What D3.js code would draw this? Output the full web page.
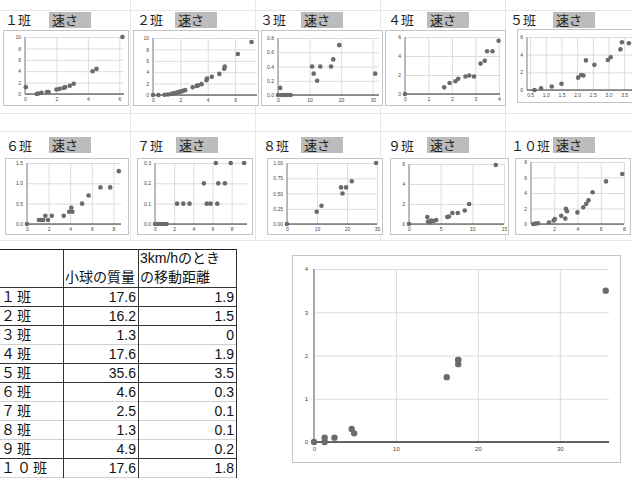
<!DOCTYPE html>
<html>
<head>
<meta charset="utf-8">
<script src="https://d3js.org/d3.v7.min.js"></script>
<style>
body { margin: 0; background: #fff; }
svg { display: block; font-family: "Liberation Sans", Arial, sans-serif; }
</style>
</head>
<body>
<svg id="sheet" width="632" height="478"></svg>
<script>
// ---- data ----
var classNames = ["１班", "２班", "３班", "４班", "５班", "６班", "７班", "８班", "９班", "１０班"];
var massValues = [17.6, 16.2, 1.3, 17.6, 35.6, 4.6, 2.5, 1.3, 4.9, 17.6];
var distValues = [1.9, 1.5, 0, 1.9, 3.5, 0.3, 0.1, 0.1, 0.2, 1.8];
var speedLabel = "速さ";
var massHeader = "小球の質量";
var distHeader = ["3km/hのとき", "の移動距離"];

// speed charts, one list of [x, y] per class
var speed1 = [[0.05,1.2],[0.75,0],[0.85,0.1],[1.05,0.2],[1.4,0.35],[1.5,0.35],[2.0,0.8],[2.2,0.9],
  [2.45,1.05],[2.55,1.2],[2.85,1.45],[3.1,1.8],[4.3,4.0],[4.55,4.4],[6.2,10]];
var speed2 = [[0,0],[0.4,0],[0.85,0.05],[1.1,0.1],[1.35,0.2],[1.5,0.25],[1.6,0.35],[1.75,0.4],[1.85,0.5],
  [2.0,0.6],[2.1,0.65],[2.2,0.75],[2.35,0.85],[2.9,1.35],[3.2,1.6],[3.3,1.7],[3.55,1.9],[3.9,2.6],[3.95,2.9],
  [4.3,3.2],[4.85,3.7],[5.2,4.6],[5.25,5.0],[6.2,7.2],[7.2,9.3]];
var speed3 = [[0,0],[0.7,0.1],[1,0],[2,0],[3,0],[4,0],[10.8,0.4],[11.3,0.3],[12.4,0.2],[13.4,0.4],
  [16.8,0.4],[17.5,0.5],[19.4,0.7],[30.8,0.3]];
var speed4 = [[0,0],[1.67,0.7],[1.9,1.15],[2.15,1.35],[2.27,1.6],[2.58,1.85],[2.74,1.95],[2.94,1.85],
  [3.22,3.2],[3.4,3.5],[3.5,4.5],[3.73,4.5],[3.99,5.6]];
var speed5 = [[0.64,0],[0.85,0.2],[1.19,0.4],[1.5,0.7],[2.03,1.4],[2.13,1.7],[2.2,1.65],[2.28,3.35],
  [2.55,2.85],[2.98,3.4],[3.07,3.7],[3.38,4.6],[3.43,5.4],[3.65,5.3]];
var speed6 = [[0,0],[1.1,0.1],[1.3,0.1],[1.5,0.1],[1.7,0.2],[1.95,0.1],[2.3,0.2],[3.4,0.2],[3.9,0.3],
  [4.1,0.4],[4.2,0.3],[5.1,0.5],[5.7,0.7],[6.8,0.9],[7.7,0.9],[8.5,1.3]];
var speed7 = [[0,0],[0.3,0],[0.6,0],[0.9,0],[1.2,0],[2.3,0.1],[2.95,0.1],[3.6,0.1],[5.1,0.2],[5.4,0.1],
  [5.8,0.1],[6.5,0.1],[6.35,0.3],[6.6,0.2],[7.3,0.2],[7.9,0.3],[9.3,0.3]];
var speed8 = [[0,0],[9.9,0.2],[11.5,0.3],[18,0.6],[18.5,0.5],[19.7,0.6],[21.6,0.7],[29.7,1.0]];
var speed9 = [[0,0],[2.9,0.7],[3.0,0.25],[3.3,0.15],[3.5,0.35],[3.9,0.3],[4.3,0.4],[6.05,0.7],[6.3,0.75],
  [6.85,1.1],[7.7,1.1],[8.8,1.35],[9.5,2.0],[13.7,5.9]];
var speed10 = [[0.2,0],[0.4,0.05],[0.6,0.1],[1.55,0.2],[1.95,0.45],[2.05,0.65],[2.6,1.05],[2.95,0.7],
  [3.0,1.95],[3.1,1.65],[4.0,1.5],[4.5,2.15],[4.75,2.6],[4.95,3.05],[5.3,4.1],[6.45,5.5],[7.85,6.45]];
var speedData = [speed1, speed2, speed3, speed4, speed5, speed6, speed7, speed8, speed9, speed10];

// tick values for each small chart
var xTicksList = [[0,2,4,6],[0,2,4,6],[0,10,20,30],[0,1,2,3,4],[0.5,1,1.5,2,2.5,3,3.5],
  [0,2,4,6,8],[0,2,4,6,8],[0,10,20,30],[0,5,10,15],[2,4,6,8]];
var yTicksList = [[0,2,4,6,8,10],[0,2,4,6,8,10],[0,0.2,0.4,0.6,0.8],[0,2,4,6],[0,2,4,6],
  [0,0.5,1,1.5],[0,0.1,0.2,0.3],[0,0.25,0.5,0.75,1],[0,2,4,6],[0,2,4,6,8]];
var yFormats = ["d","d",".1f","d","d",".1f",".1f",".2f","d","d"];
var xFormats = ["d","d","d","d",".1f","d","d","d","d","d"];

// summary chart ticks
var mainXTicks = [0, 10, 20, 30];
var mainYTicks = [0, 1, 2, 3, 4];

// ---- layout ----
var smallLayout = [
  {bx:3,   by:30,  bw:125, bh:75, l:25,  r:124, t:37,  b:94,  xd:[0,6.3],  yd:[0,10]},
  {bx:133, by:30,  bw:125, bh:75, l:153, r:257, t:38,  b:95,  xd:[0,7.6],  yd:[0,10]},
  {bx:261, by:30,  bw:121, bh:75, l:278, r:379, t:38,  b:95,  xd:[0,32],   yd:[0,0.8]},
  {bx:385, by:30,  bw:120, bh:75, l:405, r:500, t:37,  b:94,  xd:[0,4.05], yd:[0,6]},
  {bx:517, by:29,  bw:120, bh:73, l:527, r:632, t:37,  b:90,  xd:[0.4,3.75], yd:[0,6]},
  {bx:5,   by:158, bw:123, bh:76, l:27,  r:121, t:163, b:224, xd:[0,8.7],  yd:[0,1.5]},
  {bx:137, by:158, bw:115, bh:76, l:155, r:247, t:163, b:224, xd:[0,9.6],  yd:[0,0.3]},
  {bx:267, by:158, bw:115, bh:76, l:287, r:377, t:163, b:224, xd:[0,30],   yd:[0,1]},
  {bx:390, by:158, bw:118, bh:76, l:409, r:504, t:164, b:224, xd:[0,15],   yd:[0,6]},
  {bx:515, by:158, bw:115, bh:76, l:531, r:624, t:162, b:224, xd:[0,8],    yd:[0,8]}
];
var headerLayout = [
  {tx:5, ty:25, gx:49, gy:12}, {tx:137, ty:25, gx:175, gy:12}, {tx:260, ty:25, gx:301, gy:12},
  {tx:388, ty:25, gx:427, gy:12}, {tx:510, ty:25, gx:553, gy:12},
  {tx:6, ty:151, gx:49, gy:137}, {tx:137, ty:151, gx:176, gy:137}, {tx:263, ty:151, gx:301, gy:137},
  {tx:388, ty:151, gx:427, gy:137}, {tx:511, ty:151, gx:553, gy:137}
];

var svg = d3.select("#sheet");
var cjk = "'Noto Sans CJK JP', 'Noto Sans CJK SC', sans-serif";

// faint spreadsheet cell grid
var gridG = svg.append("g").attr("stroke", "#e6e6e6").attr("stroke-width", 1);
[10, 113, 131, 240].forEach(function(yy) {
  gridG.append("line").attr("x1", 0).attr("x2", 632).attr("y1", yy + 0.5).attr("y2", yy + 0.5);
});
[130, 255, 380, 505].forEach(function(xx) {
  gridG.append("line").attr("x1", xx + 0.5).attr("x2", xx + 0.5).attr("y1", 0).attr("y2", 240);
});

function drawScatter(c, pts, xt, yt, fx, fy, opt) {
  var g = svg.append("g");
  g.append("rect").attr("x", c.bx + 0.5).attr("y", c.by + 0.5).attr("width", c.bw).attr("height", c.bh)
    .attr("fill", "#fff").attr("stroke", "#c4c4c4");
  var x = d3.scaleLinear().domain(c.xd).range([c.l, c.r]);
  var y = d3.scaleLinear().domain(c.yd).range([c.b, c.t]);

  var ax = g.append("g").attr("transform", "translate(0," + c.b + ")")
    .call(d3.axisBottom(x).tickValues(xt).tickSize(-(c.b - c.t)).tickPadding(opt.pad).tickFormat(d3.format(fx)));
  var ay = g.append("g").attr("transform", "translate(" + c.l + ",0)")
    .call(d3.axisLeft(y).tickValues(yt).tickSize(-(c.r - c.l)).tickPadding(opt.pad + 1).tickFormat(d3.format(fy)));
  [ax, ay].forEach(function(a) {
    a.select(".domain").remove();
    a.selectAll("line").attr("stroke", "#dcdcdc");
    a.selectAll("text").attr("fill", "#444").attr("font-size", opt.font);
  });

  // y axis (grey) and x axis (dark)
  g.append("line").attr("x1", c.l).attr("x2", c.l).attr("y1", c.t).attr("y2", c.b)
    .attr("stroke", "#a8a8a8").attr("stroke-width", opt.yw);
  g.append("line").attr("x1", c.l).attr("x2", c.r).attr("y1", y(0)).attr("y2", y(0))
    .attr("stroke", "#333").attr("stroke-width", opt.xw);

  g.selectAll("circle").data(pts).enter().append("circle")
    .attr("cx", function(d) { return x(d[0]); })
    .attr("cy", function(d) { return y(d[1]); })
    .attr("r", opt.r)
    .attr("fill", "#6b6b6b");
}

// ---- small charts with headers ----
smallLayout.forEach(function(c, i) {
  var h = headerLayout[i];
  svg.append("rect").attr("x", h.gx).attr("y", h.gy).attr("width", 42).attr("height", 16).attr("fill", "#bcbcbc");
  svg.append("text").attr("x", h.gx + 3).attr("y", h.gy + 13).attr("font-family", cjk)
    .attr("font-size", 13).attr("fill", "#222").text(speedLabel);
  svg.append("text").attr("x", h.tx).attr("y", h.ty).attr("font-family", cjk)
    .attr("font-size", 13).attr("fill", "#222").text(classNames[i]);
  drawScatter(c, speedData[i], xTicksList[i], yTicksList[i], xFormats[i], yFormats[i],
    {pad: 3, font: 5, r: 2.3, yw: 1.5, xw: 1});
});

// ---- table ----
var colX = [0, 63, 138, 236];
var tableTop = 249, headBottom = 287, rowH = 19;
var tg = svg.append("g");
tg.append("rect").attr("x", 0).attr("y", tableTop).attr("width", 236).attr("height", 478 - tableTop).attr("fill", "#fff");
// faint cell lines
classNames.forEach(function(n, i) {
  var yy = headBottom + rowH * (i + 1);
  tg.append("line").attr("x1", 0).attr("x2", 236).attr("y1", yy + 0.5).attr("y2", yy + 0.5)
    .attr("stroke", "#d0d0d0");
});
var darkRows = [-1, 0, 1, 3, 4, 8];
darkRows.forEach(function(i) {
  var yy = headBottom + rowH * (i + 1);
  tg.append("line").attr("x1", 0).attr("x2", 236).attr("y1", yy + 0.5).attr("y2", yy + 0.5)
    .attr("stroke", "#333");
});
tg.append("line").attr("x1", 0).attr("x2", 236).attr("y1", tableTop + 0.5).attr("y2", tableTop + 0.5).attr("stroke", "#222");
[63, 138, 236].forEach(function(xx) {
  tg.append("line").attr("x1", xx + 0.5).attr("x2", xx + 0.5).attr("y1", tableTop).attr("y2", 478)
    .attr("stroke", "#333");
});

tg.append("text").attr("x", 65).attr("y", 282).attr("font-family", cjk).attr("font-size", 14)
  .attr("fill", "#111").text(massHeader);
distHeader.forEach(function(s, k) {
  tg.append("text").attr("x", 140).attr("y", 263 + k * 19).attr("font-family", "'Liberation Sans', " + cjk)
    .attr("font-size", 14).attr("fill", "#111").text(s);
});

var rows = tg.selectAll("g.row").data(classNames).enter().append("g").attr("class", "row")
  .attr("transform", function(d, i) { return "translate(0," + (headBottom + rowH * i) + ")"; });
rows.append("text").attr("x", 1).attr("y", 15).attr("font-family", cjk).attr("font-size", 14)
  .attr("fill", "#111").attr("letter-spacing", 2).text(function(d) { return d; });
rows.append("text").attr("x", 136).attr("y", 15).attr("text-anchor", "end").attr("font-size", 14)
  .attr("fill", "#111").text(function(d, i) { return d3.format(".1f")(massValues[i]); });
rows.append("text").attr("x", 234).attr("y", 15).attr("text-anchor", "end").attr("font-size", 14)
  .attr("fill", "#111").text(function(d, i) { return distValues[i] === 0 ? "0" : d3.format(".1f")(distValues[i]); });

// ---- summary chart: mass vs distance ----
var mainPts = [[0, 0]].concat(massValues.map(function(m, i) { return [m, distValues[i]]; }));
drawScatter({bx:292, by:255, bw:328, bh:207, l:314, r:609, t:269, b:442, xd:[0,36], yd:[0,4]},
  mainPts, mainXTicks, mainYTicks, "d", "d", {pad: 5, font: 6, r: 3.2, yw: 2, xw: 1.3});
</script>
</body>
</html>
